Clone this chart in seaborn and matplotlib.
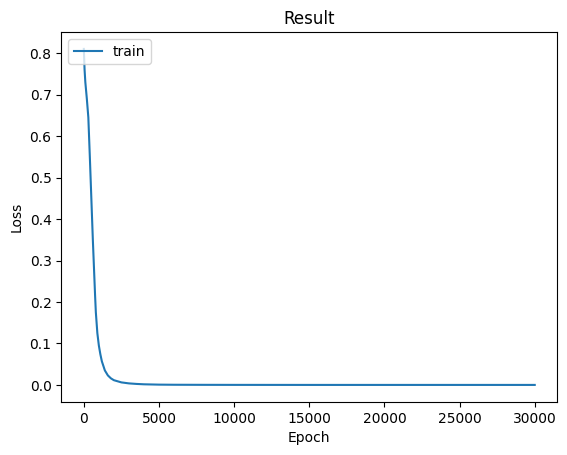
import pandas as pd
import matplotlib
matplotlib.use("Agg")
import matplotlib.pyplot as plt
import seaborn as sns

# training loss
epochs = [0, 50, 100, 200, 300, 400, 500, 600, 700, 750, 800, 900, 1000, 1100, 1200,
          1400, 1600, 1800, 2000, 2500, 3000, 3500, 4000, 5000, 6000, 8000,
          10000, 15000, 20000, 25000, 30000]
loss = [0.81, 0.76, 0.73, 0.69, 0.645, 0.55, 0.45, 0.35, 0.26, 0.215, 0.175, 0.125, 0.095,
        0.074, 0.057, 0.035, 0.023, 0.016, 0.0115, 0.0062, 0.0038, 0.0025, 0.0016,
        0.0008, 0.0005, 0.0003, 0.0002, 0.0001, 0.0001, 0.0001, 0.0001]

df = pd.DataFrame({"Epoch": epochs, "Loss": loss})

fig, ax = plt.subplots(figsize=(6.4, 4.8), dpi=100)
sns.lineplot(x="Epoch", y="Loss", data=df, ax=ax, label="train", color="#1f77b4")
ax.set_title("Result")
ax.legend(loc="upper left")
fig.savefig("out.png", dpi=100, bbox_inches="tight")
